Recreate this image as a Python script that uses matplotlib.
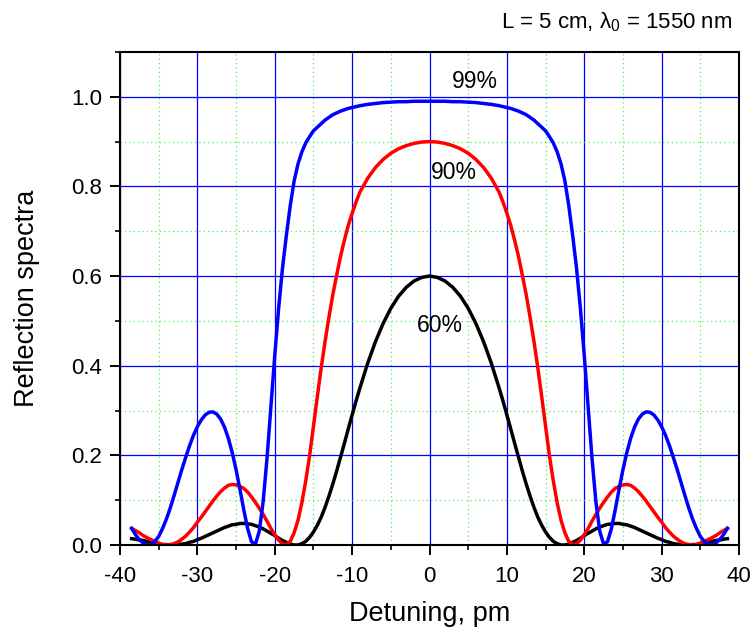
import matplotlib
matplotlib.use("Agg")
import matplotlib.pyplot as plt
from matplotlib.ticker import MultipleLocator, FormatStrFormatter

plt.rcParams['font.family'] = ['Liberation Sans', 'DejaVu Sans']
plt.rcParams['mathtext.fontset'] = 'custom'
plt.rcParams['mathtext.rm'] = 'Liberation Sans'
plt.rcParams['mathtext.it'] = 'Liberation Sans:italic'

detuning_pm = [-38.5, -38, -37.5, -37, -36.5, -36, -35.5, -35, -34.5,
               -34, -33.5, -33, -32.5, -32, -31.5, -31, -30.5, -30, -29.5,
               -29, -28.5, -28, -27.5, -27, -26.5, -26, -25.5, -25, -24.5,
               -24, -23.5, -23, -22.5, -22, -21.5, -21, -20.5, -20, -19.5,
               -19, -18.5, -18, -17.5, -17, -16.5, -16, -15.5, -15, -14.5,
               -14, -13.5, -13, -12.5, -12, -11.5, -11, -10.5, -10, -9.5,
               -9, -8, -7, -6, -5, -4, -3, -2, -1,
               0,
               1, 2, 3, 4, 5, 6, 7, 8, 9,
               9.5, 10, 10.5, 11, 11.5, 12, 12.5, 13, 13.5, 14,
               14.5, 15, 15.5, 16, 16.5, 17, 17.5, 18, 18.5, 19,
               19.5, 20, 20.5, 21, 21.5, 22, 22.5, 23, 23.5, 24,
               24.5, 25, 25.5, 26, 26.5, 27, 27.5, 28, 28.5, 29,
               29.5, 30, 30.5, 31, 31.5, 32, 32.5, 33, 33.5, 34,
               34.5, 35, 35.5, 36, 36.5, 37, 37.5, 38, 38.5]

refl_99 = [0.037, 0.023, 0.012, 0.004, 0.000, 0.001, 0.008, 0.019, 0.037,
           0.058, 0.083, 0.111, 0.140, 0.169, 0.196, 0.222, 0.245, 0.264, 0.279,
           0.290, 0.296, 0.297, 0.292, 0.281, 0.263, 0.238, 0.206, 0.168, 0.124,
           0.078, 0.036, 0.007, 0.002, 0.031, 0.097, 0.194, 0.307, 0.423, 0.528,
           0.618, 0.691, 0.757, 0.812, 0.850, 0.877, 0.897, 0.911, 0.924, 0.932,
           0.940, 0.948, 0.954, 0.960, 0.964, 0.968, 0.971, 0.974, 0.976, 0.978,
           0.980, 0.983, 0.985, 0.987, 0.988, 0.989, 0.989, 0.990, 0.990,
           0.990,
           0.990, 0.990, 0.989, 0.989, 0.988, 0.987, 0.985, 0.983, 0.980,
           0.978, 0.976, 0.974, 0.971, 0.968, 0.964, 0.960, 0.954, 0.948, 0.940,
           0.932, 0.924, 0.911, 0.897, 0.877, 0.850, 0.812, 0.757, 0.691, 0.618,
           0.528, 0.423, 0.307, 0.194, 0.097, 0.031, 0.002, 0.007, 0.036, 0.078,
           0.124, 0.168, 0.206, 0.238, 0.263, 0.281, 0.292, 0.297, 0.296, 0.290,
           0.279, 0.264, 0.245, 0.222, 0.196, 0.169, 0.140, 0.111, 0.083, 0.058,
           0.037, 0.019, 0.008, 0.001, 0.000, 0.004, 0.012, 0.023, 0.037]

refl_90 = [0.037, 0.032, 0.027, 0.021, 0.016, 0.012, 0.008, 0.004, 0.001,
           0.000, 0.001, 0.003, 0.007, 0.013, 0.020, 0.029, 0.039, 0.051, 0.062,
           0.074, 0.086, 0.098, 0.109, 0.119, 0.127, 0.133, 0.135, 0.134, 0.131,
           0.126, 0.118, 0.107, 0.095, 0.082, 0.068, 0.053, 0.037, 0.023, 0.011,
           0.002, 0.001, 0.008, 0.027, 0.055, 0.094, 0.143, 0.199, 0.265, 0.331,
           0.395, 0.454, 0.508, 0.558, 0.602, 0.644, 0.680, 0.713, 0.740, 0.765,
           0.787, 0.818, 0.842, 0.860, 0.874, 0.884, 0.891, 0.896, 0.899,
           0.900,
           0.899, 0.896, 0.891, 0.884, 0.874, 0.860, 0.842, 0.818, 0.787,
           0.765, 0.740, 0.713, 0.680, 0.644, 0.602, 0.558, 0.508, 0.454, 0.395,
           0.331, 0.265, 0.199, 0.143, 0.094, 0.055, 0.027, 0.008, 0.001, 0.002,
           0.011, 0.023, 0.037, 0.053, 0.068, 0.082, 0.095, 0.107, 0.118, 0.126,
           0.131, 0.134, 0.135, 0.133, 0.127, 0.119, 0.109, 0.098, 0.086, 0.074,
           0.062, 0.051, 0.039, 0.029, 0.020, 0.013, 0.007, 0.003, 0.001, 0.000,
           0.001, 0.004, 0.008, 0.012, 0.016, 0.021, 0.027, 0.032, 0.037]

refl_60 = [0.014, 0.013, 0.011, 0.010, 0.008, 0.006, 0.004, 0.003, 0.001,
           0.001, 0.000, 0.000, 0.001, 0.002, 0.003, 0.006, 0.008, 0.012, 0.015,
           0.019, 0.023, 0.027, 0.031, 0.035, 0.039, 0.042, 0.045, 0.046, 0.048,
           0.048, 0.047, 0.046, 0.043, 0.040, 0.036, 0.031, 0.026, 0.021, 0.015,
           0.010, 0.006, 0.002, 0.000, 0.000, 0.003, 0.008, 0.017, 0.029, 0.044,
           0.062, 0.084, 0.109, 0.136, 0.165, 0.196, 0.227, 0.259, 0.290, 0.321,
           0.350, 0.405, 0.453, 0.494, 0.528, 0.555, 0.575, 0.589, 0.597,
           0.600,
           0.597, 0.589, 0.575, 0.555, 0.528, 0.494, 0.453, 0.405, 0.350,
           0.321, 0.290, 0.259, 0.227, 0.196, 0.165, 0.136, 0.109, 0.084, 0.062,
           0.044, 0.029, 0.017, 0.008, 0.003, 0.000, 0.000, 0.002, 0.006, 0.010,
           0.015, 0.021, 0.026, 0.031, 0.036, 0.040, 0.043, 0.046, 0.047, 0.048,
           0.048, 0.046, 0.045, 0.042, 0.039, 0.035, 0.031, 0.027, 0.023, 0.019,
           0.015, 0.012, 0.008, 0.006, 0.003, 0.002, 0.001, 0.000, 0.000, 0.001,
           0.001, 0.003, 0.004, 0.006, 0.008, 0.010, 0.011, 0.013, 0.014]

series_labels = ["60%", "90%", "99%"]
series_colors = ["black", "red", "blue"]
label_pos = [(1.3, 0.49), (3.2, 0.83), (5.9, 1.035)]

assert len(detuning_pm) == len(refl_99) == len(refl_90) == len(refl_60)

fig = plt.figure(figsize=(7.53, 6.32), dpi=100)
ax = fig.add_axes([0.1594, 0.1377, 0.8220, 0.7801])

for ys, c in zip([refl_60, refl_90, refl_99], series_colors):
    ax.plot(detuning_pm, ys, color=c, lw=2.5, zorder=3)

for lab, (tx, ty) in zip(series_labels, label_pos):
    ax.text(tx, ty, lab, fontsize=16.5, ha='center', va='center', zorder=4)

ax.set_xlim(-40, 40)
ax.set_ylim(0, 1.1)
ax.xaxis.set_major_locator(MultipleLocator(10))
ax.xaxis.set_minor_locator(MultipleLocator(5))
ax.yaxis.set_major_locator(MultipleLocator(0.2))
ax.yaxis.set_minor_locator(MultipleLocator(0.1))
ax.yaxis.set_major_formatter(FormatStrFormatter('%.1f'))
ax.xaxis.set_major_formatter(FormatStrFormatter('%d'))

ax.grid(True, which='major', color='#0000ff', lw=0.9, ls='-', zorder=1)
ax.grid(True, which='minor', color='#55ee55', lw=0.9, ls=(0, (1, 2.5)), zorder=1)

ax.tick_params(which='major', direction='out', length=7, width=1.4, labelsize=16,
               top=False, right=False)
ax.tick_params(axis='x', which='major', pad=8)
ax.tick_params(axis='y', which='major', pad=6)
ax.tick_params(which='minor', direction='out', length=3.5, width=1.2, top=False, right=False)
for sp in ax.spines.values():
    sp.set_linewidth(1.5)
    sp.set_zorder(5)

ax.set_xlabel("Detuning, pm", fontsize=19.5, labelpad=10)
ax.set_ylabel("Reflection spectra", fontsize=19.5, labelpad=22)

fig.text(0.972, 0.965, r"L = 5 cm, λ$_0$ = 1550 nm", fontsize=16, ha='right', va='center')

fig.savefig("out.png", dpi=100)
